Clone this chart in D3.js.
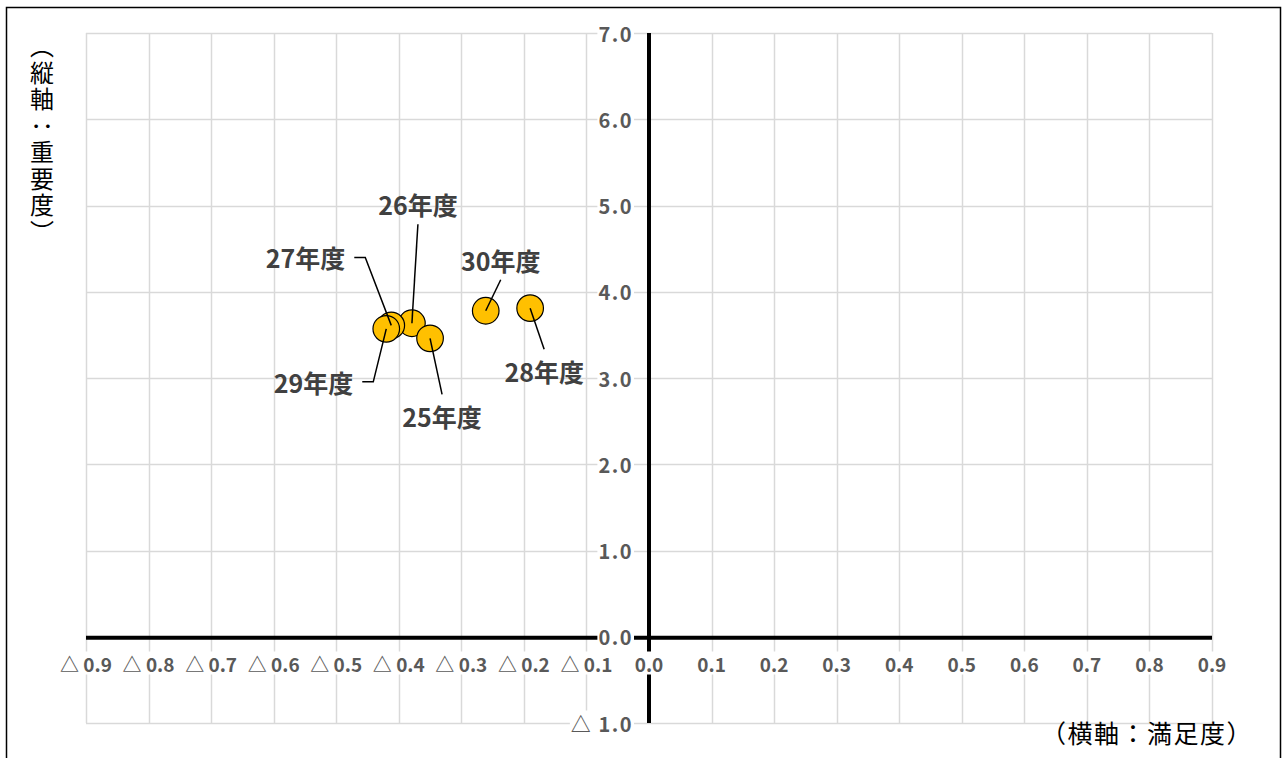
<!DOCTYPE html>
<html lang="ja">
<head>
<meta charset="utf-8">
<script src="https://cdn.jsdelivr.net/npm/d3@7"></script>
<style>
  html, body { margin: 0; padding: 0; background: #fff; }
  svg { display: block; }
</style>
</head>
<body>
<svg id="chart" width="1284" height="758"></svg>
<script>
// 満足度（横軸）・重要度（縦軸）の年度別推移
const years        = ["25年度", "26年度", "27年度", "28年度", "29年度", "30年度"];
const satisfaction = [-0.350, -0.379, -0.412, -0.190, -0.420, -0.261];
const importance   = [3.46, 3.635, 3.61, 3.81, 3.57, 3.78];

// 目盛り
const xTicks = [-0.9, -0.8, -0.7, -0.6, -0.5, -0.4, -0.3, -0.2, -0.1, 0, 0.1, 0.2, 0.3, 0.4, 0.5, 0.6, 0.7, 0.8, 0.9];
const yTicks = [-1, 0, 1, 2, 3, 4, 5, 6, 7];

// ラベルの配置（点からのずれ、px）と引き出し線の向き
const labelLayout = {
  "25年度": { dx: 12,  dy: 78,   side: "below" },
  "26年度": { dx: 6,   dy: -119, side: "above" },
  "27年度": { dx: -36, dy: -68,  side: "left"  },
  "28年度": { dx: 14,  dy: 63,   side: "below" },
  "29年度": { dx: -23, dy: 53,   side: "left"  },
  "30年度": { dx: 15,  dy: -51,  side: "above" }
};
// 重なり順（後ろほど手前）
const drawOrder = ["26年度", "25年度", "27年度", "28年度", "29年度", "30年度"];

const svg = d3.select("#chart");

const x = d3.scaleLinear().domain([-0.9, 0.9]).range([86, 1212]);
const y = d3.scaleLinear().domain([-1, 7]).range([723, 33]);

// 外枠
svg.append("rect")
  .attr("x", 6.5).attr("y", 7.5).attr("width", 1274).attr("height", 760)
  .attr("fill", "#fff").attr("stroke", "#000").attr("stroke-width", 1.5);

// 目盛り線
const grid = svg.append("g");
grid.selectAll("line.v").data(xTicks).join("line")
  .attr("class", "v")
  .attr("x1", d => Math.round(x(d)) + 0.5).attr("x2", d => Math.round(x(d)) + 0.5)
  .attr("y1", y(7)).attr("y2", y(-1))
  .attr("stroke", "#d9d9d9").attr("stroke-width", 1.5);
grid.selectAll("line.h").data(yTicks).join("line")
  .attr("class", "h")
  .attr("x1", x(-0.9)).attr("x2", x(0.9))
  .attr("y1", d => Math.round(y(d)) + 0.5).attr("y2", d => Math.round(y(d)) + 0.5)
  .attr("stroke", "#d9d9d9").attr("stroke-width", 1.5);

// 軸線（原点を通る）
svg.append("line")
  .attr("x1", x(-0.9)).attr("x2", x(0.9))
  .attr("y1", y(0) + 1).attr("y2", y(0) + 1)
  .attr("stroke", "#000").attr("stroke-width", 4);
svg.append("line")
  .attr("x1", x(0)).attr("x2", x(0))
  .attr("y1", y(7)).attr("y2", y(-1))
  .attr("stroke", "#000").attr("stroke-width", 4);

const tickFont = "'Noto Sans CJK JP', 'Noto Sans', sans-serif";
const fmt = d => d < 0 ? "△ " + d3.format(".1f")(-d) : d3.format(".1f")(d);

// 背景を白抜きにしたラベル
function boxedText(g, tx, ty, txt, anchor, size, letterSpacing) {
  const grp = g.append("g");
  const bg = grp.append("rect").attr("fill", "#fff");
  const t = grp.append("text")
    .attr("x", tx).attr("y", ty)
    .attr("text-anchor", anchor)
    .attr("dominant-baseline", "central")
    .attr("font-family", tickFont)
    .attr("font-size", size)
    .attr("font-weight", 700)
    .attr("letter-spacing", letterSpacing)
    .attr("fill", "#595959")
    .text(txt);
  const b = t.node().getBBox();
  bg.attr("x", b.x - 1).attr("y", b.y + 2).attr("width", b.width + 2).attr("height", b.height - 4);
}

const xAxisG = svg.append("g");
xTicks.forEach(d => boxedText(xAxisG, x(d), 663, fmt(d), "middle", 19, 0));

const yAxisG = svg.append("g");
yTicks.forEach(d => boxedText(yAxisG, 633, y(d), fmt(d), "end", 20, 1.5));

// 軸タイトル
svg.append("text")
  .attr("x", 42).attr("y", 34)
  .attr("font-family", "'Noto Sans CJK JP', sans-serif")
  .attr("font-size", 24)
  .attr("letter-spacing", 2.5)
  .attr("fill", "#000")
  .style("writing-mode", "vertical-rl")
  .text("（縦軸：重要度）");
svg.append("text")
  .attr("x", 1253).attr("y", 732)
  .attr("text-anchor", "end")
  .attr("dominant-baseline", "central")
  .attr("font-family", "'Noto Sans CJK JP', sans-serif")
  .attr("font-size", 25)
  .attr("letter-spacing", 1.5)
  .attr("fill", "#000")
  .text("（横軸：満足度）");

// データ点
const points = years.map((yr, i) => ({ year: yr, sx: satisfaction[i], im: importance[i] }));
const ordered = drawOrder.map(yr => points.find(p => p.year === yr));

svg.append("g").selectAll("circle").data(ordered).join("circle")
  .attr("cx", d => x(d.sx)).attr("cy", d => y(d.im)).attr("r", 13.3)
  .attr("fill", "#ffc000").attr("stroke", "#000").attr("stroke-width", 1.2);

// 引き出し線とデータラベル
const labelG = svg.append("g");
points.forEach(p => {
  const L = labelLayout[p.year];
  const px = x(p.sx), py = y(p.im);
  const lx = px + L.dx, ly = py + L.dy;
  let pts;
  if (L.side === "above") pts = [[px, py], [lx, ly + 20]];
  else if (L.side === "below") pts = [[px, py], [lx, ly - 22]];
  else pts = [[px, py], [lx + 10, ly], [lx - 1, ly]];
  labelG.append("path")
    .attr("d", d3.line()(pts))
    .attr("fill", "none").attr("stroke", "#000").attr("stroke-width", 1.5);
  labelG.append("text")
    .attr("x", L.side === "left" ? lx - 10 : lx)
    .attr("y", ly)
    .attr("text-anchor", L.side === "left" ? "end" : "middle")
    .attr("dominant-baseline", "central")
    .attr("font-family", "'Noto Sans CJK JP', sans-serif")
    .attr("font-size", 25)
    .attr("font-weight", 700)
    .attr("fill", "#404040")
    .text(p.year);
});
</script>
</body>
</html>
